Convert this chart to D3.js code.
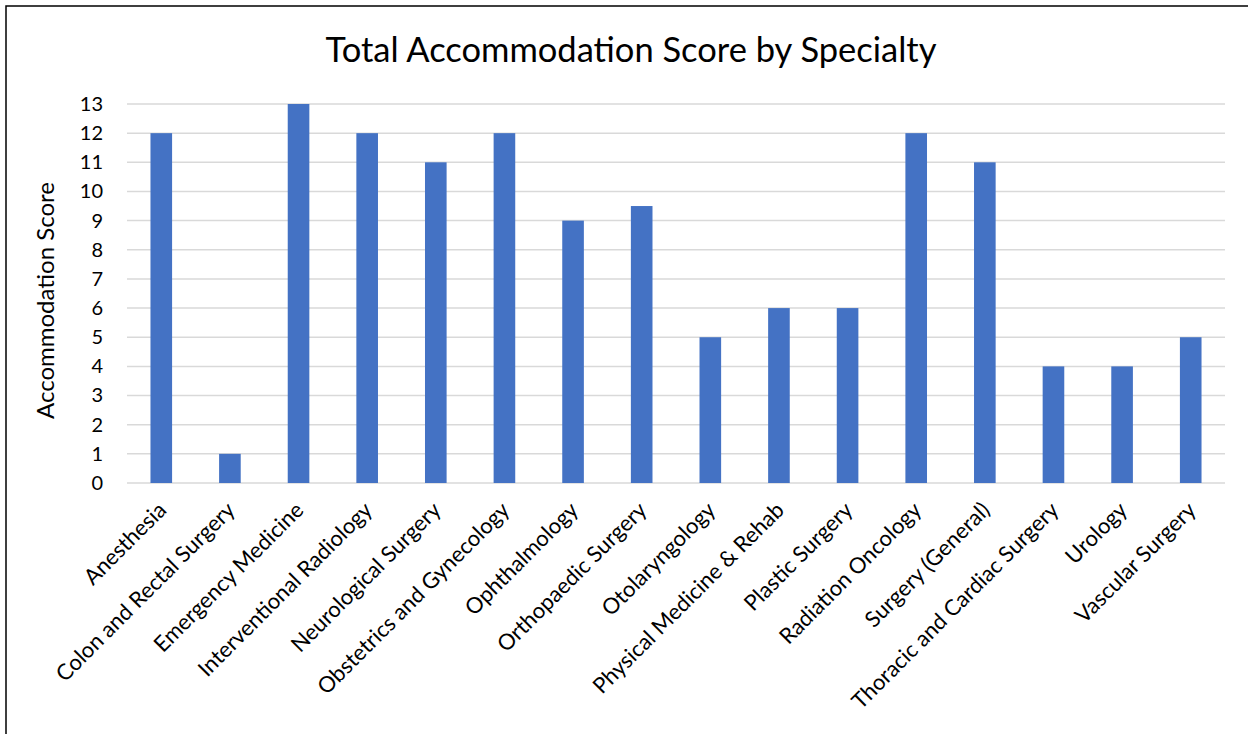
<!DOCTYPE html>
<html>
<head>
<meta charset="utf-8">
<script src="https://cdn.jsdelivr.net/npm/d3@7"></script>
<style>
  body { margin: 0; background: #fff; }
  svg { display: block; font-family: Lato, "Open Sans", sans-serif; }
</style>
</head>
<body>
<div id="chart"></div>
<script>
// chart data
const specialties = [
    "Anesthesia",
    "Colon and Rectal Surgery",
    "Emergency Medicine",
    "Interventional Radiology",
    "Neurological Surgery",
    "Obstetrics and Gynecology",
    "Ophthalmology",
    "Orthopaedic Surgery",
    "Otolaryngology",
    "Physical Medicine & Rehab",
    "Plastic Surgery",
    "Radiation Oncology",
    "Surgery (General)",
    "Thoracic and Cardiac Surgery",
    "Urology",
    "Vascular Surgery"
];
const scores = [12, 1, 13, 12, 11, 12, 9, 9.5, 5, 6, 6, 12, 11, 4, 4, 5];
const yTicks = [0, 1, 2, 3, 4, 5, 6, 7, 8, 9, 10, 11, 12, 13];

const title = "Total Accommodation Score by Specialty";
const yTitle = "Accommodation Score";
const barColor = '#4472C4';

const width = 1248, height = 734;
const margin = { top: 104, right: 23, bottom: 251, left: 127 };

const data = specialties.map((s, i) => ({ specialty: s, score: scores[i] }));

const svg = d3.select('#chart')
    .append('svg')
    .attr('width', width)
    .attr('height', height);

// outer frame (only top and left edges are visible in the original)
svg.append('rect')
    .attr('x', 6)
    .attr('y', 6)
    .attr('width', width + 20)
    .attr('height', height + 20)
    .attr('fill', 'none')
    .attr('stroke', '#000')
    .attr('stroke-width', 1.5);

const xScale = d3.scaleBand()
    .domain(specialties)
    .range([margin.left, width - margin.right])
    .paddingInner(0.685)
    .paddingOuter(0.342);

const yScale = d3.scaleLinear()
    .domain([0, 13])
    .range([height - margin.bottom, margin.top]);

// gridlines
svg.append('g')
    .selectAll('line')
    .data(yTicks)
    .join('line')
    .attr('x1', margin.left)
    .attr('x2', width - margin.right)
    .attr('y1', d => yScale(d))
    .attr('y2', d => yScale(d))
    .attr('stroke', '#d9d9d9')
    .attr('stroke-width', 1.5);

// bars
svg.append('g')
    .selectAll('rect')
    .data(data)
    .join('rect')
    .attr('x', d => xScale(d.specialty))
    .attr('y', d => yScale(d.score))
    .attr('width', xScale.bandwidth())
    .attr('height', d => yScale(0) - yScale(d.score))
    .attr('fill', barColor);

// y axis labels
const yAxis = d3.axisLeft(yScale)
    .tickValues(yTicks)
    .tickSize(0)
    .tickPadding(24);

svg.append('g')
    .attr('transform', `translate(${margin.left},0)`)
    .call(yAxis)
    .call(g => g.select('.domain').remove())
    .selectAll('text')
    .style('font-size', '20px')
    .style('font-family', 'Lato, sans-serif')
    .attr('fill', '#000');

// x axis labels, rotated
const xAxis = d3.axisBottom(xScale)
    .tickSize(0)
    .tickPadding(0);

svg.append('g')
    .attr('transform', `translate(0,${height - margin.bottom})`)
    .call(xAxis)
    .call(g => g.select('.domain').remove())
    .selectAll('text')
    .style('font-size', '22px')
    .style('font-family', 'Lato, sans-serif')
    .attr('fill', '#000')
    .attr('text-anchor', 'end')
    .attr('dy', '0.35em')
    .attr('transform', 'translate(1,23) rotate(-45)');

// title
svg.append('text')
    .attr('x', 631)
    .attr('y', 62)
    .attr('text-anchor', 'middle')
    .style('font-size', '34.5px')
    .text(title);

// y axis title
svg.append('text')
    .attr('transform', `translate(54,${(margin.top + height - margin.bottom) / 2 + 7}) rotate(-90)`)
    .attr('text-anchor', 'middle')
    .style('font-size', '24px')
    .text(yTitle);
</script>
</body>
</html>
